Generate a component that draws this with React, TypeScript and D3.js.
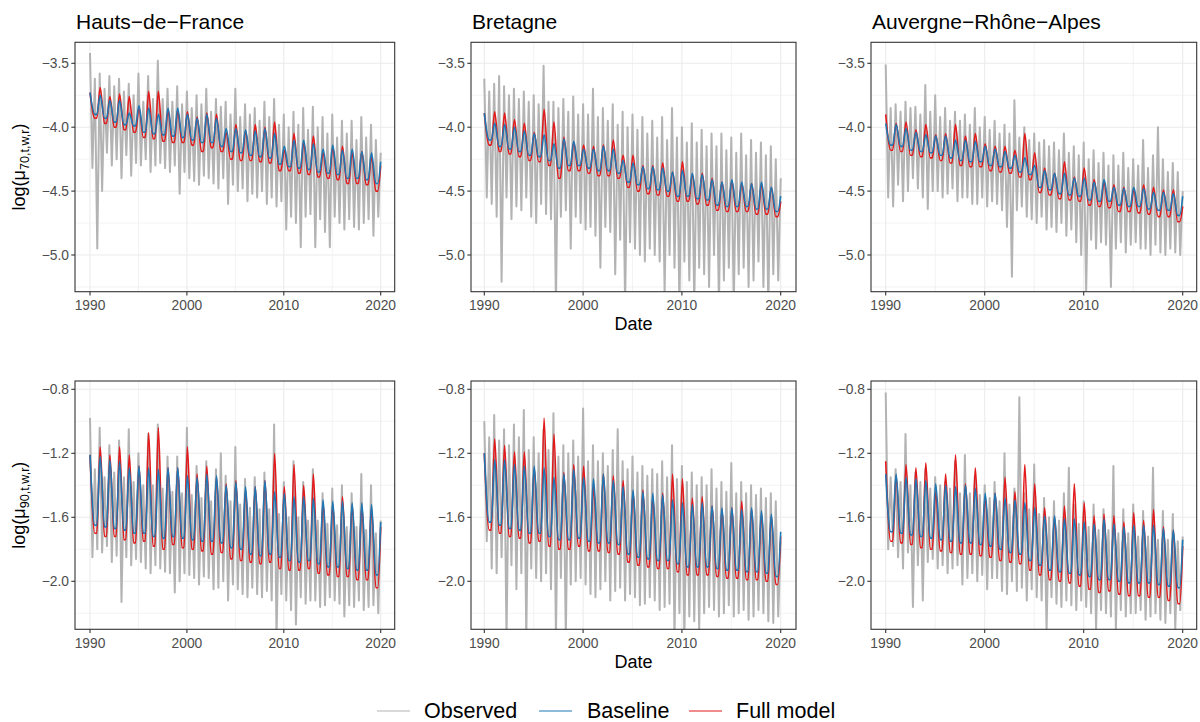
import React from "react";
import * as d3 from "d3";

const FONT = '"Liberation Sans", Arial, Helvetica, sans-serif';

const years = d3.range(1990, 2020);
const regions = ["Hauts\u2212de\u2212France", "Bretagne", "Auvergne\u2212Rh\u00f4ne\u2212Alpes"];
const xTicks = [1990, 2000, 2010, 2020];
const xMinor = [1995, 2005, 2015];
const yTicks70 = [-3.5, -4.0, -4.5, -5.0];
const yMinor70 = [-3.75, -4.25, -4.75, -5.25];
const yTicks90 = [-0.8, -1.2, -1.6, -2.0];
const yMinor90 = [-1.0, -1.4, -1.8, -2.2];
const legendLabels = ["Observed", "Baseline", "Full model"];

// ---------- Age 70 ----------
const hf70BasePeak = [-3.73,-3.75,-3.79,-3.79,-3.89,-3.83,-3.85,-3.90,-3.85,-3.85,-3.90,-3.93,-3.90,-3.93,-4.01,-4.01,-4.02,-4.03,-4.01,-4.05,-4.15,-4.10,-4.10,-4.13,-4.17,-4.14,-4.18,-4.17,-4.19,-4.20,-4.27];
const hf70BaseTrough = [-3.90,-3.93,-3.96,-3.98,-3.99,-4.04,-4.05,-4.06,-4.07,-4.08,-4.10,-4.12,-4.12,-4.15,-4.19,-4.20,-4.22,-4.23,-4.24,-4.29,-4.31,-4.32,-4.33,-4.35,-4.36,-4.37,-4.40,-4.40,-4.41,-4.44];
const hf70FullPeak = [-3.73,-3.69,-3.76,-3.74,-3.76,-3.85,-3.72,-3.72,-3.87,-3.87,-3.88,-3.92,-3.89,-3.90,-4.04,-3.98,-4.03,-3.98,-4.00,-3.96,-4.18,-4.05,-4.12,-4.07,-4.20,-4.16,-4.15,-4.20,-4.19,-4.23,-4.30];
const hf70FullTrough = [-3.93,-3.97,-4.00,-4.02,-4.04,-4.08,-4.09,-4.11,-4.12,-4.12,-4.14,-4.19,-4.16,-4.19,-4.25,-4.26,-4.26,-4.27,-4.28,-4.34,-4.34,-4.36,-4.37,-4.39,-4.40,-4.41,-4.44,-4.44,-4.45,-4.50];
const hf70Obs = [
  -3.42,-4.32,-3.62,-4.95, -3.58,-4.50,-3.70,-4.20, -3.60,-4.30,-3.68,-4.25, -3.62,-4.40,-3.72,-4.22,
  -3.66,-4.38,-3.75,-4.28, -3.58,-4.30,-3.80,-4.25, -3.60,-4.35,-3.78,-4.30, -3.48,-4.28,-3.78,-4.32,
  -3.70,-4.35,-3.80,-4.30, -3.68,-4.52,-3.82,-4.35, -3.72,-4.40,-3.85,-4.42, -3.75,-4.45,-3.82,-4.38,
  -3.70,-4.40,-3.88,-4.44, -3.78,-4.48,-3.84,-4.40, -3.80,-4.60,-3.90,-4.45, -3.70,-4.50,-3.92,-4.48,
  -3.82,-4.58,-3.90,-4.52, -3.85,-4.55,-3.95,-4.50, -3.80,-4.60,-3.92,-4.55, -3.78,-4.62,-3.98,-4.58,
  -3.90,-4.80,-4.00,-4.70, -3.88,-4.75,-3.98,-4.94, -3.85,-4.70,-4.02,-4.68, -3.84,-4.94,-4.00,-4.72,
  -3.92,-4.82,-4.05,-4.94, -3.90,-4.70,-4.08,-4.75, -3.95,-4.80,-4.05,-4.72, -3.95,-4.78,-4.10,-4.80,
  -3.92,-4.75,-4.08,-4.72, -3.98,-4.85,-4.10,-4.70, -4.20];

const br70BasePeak = [-3.89,-3.97,-3.98,-4.00,-4.03,-4.05,-4.06,-4.13,-4.09,-4.11,-4.17,-4.17,-4.15,-4.17,-4.26,-4.28,-4.31,-4.31,-4.32,-4.35,-4.34,-4.36,-4.37,-4.41,-4.43,-4.41,-4.43,-4.44,-4.43,-4.47,-4.54];
const br70BaseTrough = [-4.10,-4.15,-4.17,-4.19,-4.22,-4.23,-4.26,-4.32,-4.30,-4.30,-4.32,-4.34,-4.34,-4.36,-4.43,-4.45,-4.48,-4.49,-4.50,-4.54,-4.54,-4.56,-4.57,-4.61,-4.62,-4.62,-4.62,-4.64,-4.64,-4.66];
const br70FullPeak = [-3.89,-3.88,-3.89,-3.94,-3.97,-4.04,-3.86,-3.96,-4.08,-4.12,-4.14,-4.15,-4.14,-4.10,-4.22,-4.22,-4.30,-4.30,-4.28,-4.35,-4.27,-4.37,-4.36,-4.40,-4.43,-4.42,-4.44,-4.44,-4.45,-4.47,-4.58];
const br70FullTrough = [-4.14,-4.19,-4.21,-4.23,-4.26,-4.27,-4.30,-4.40,-4.34,-4.34,-4.36,-4.38,-4.38,-4.40,-4.47,-4.50,-4.52,-4.53,-4.54,-4.58,-4.58,-4.60,-4.61,-4.65,-4.66,-4.66,-4.66,-4.68,-4.68,-4.70];
const br70Obs = [
  -3.62,-4.55,-3.72,-4.60, -3.66,-4.70,-3.60,-5.21, -3.68,-4.55,-3.75,-4.72, -3.70,-4.62,-3.78,-4.65,
  -3.72,-4.55,-3.80,-4.70, -3.75,-4.75,-3.82,-4.60, -3.52,-4.68,-3.80,-4.72, -3.80,-5.40,-3.85,-4.70,
  -3.78,-4.65,-3.88,-4.95, -3.76,-4.70,-3.90,-4.75, -3.82,-4.80,-3.90,-4.78, -3.70,-4.85,-3.92,-5.10,
  -3.85,-4.78,-3.95,-4.82, -3.82,-5.15,-3.98,-4.88, -3.88,-5.40,-4.00,-4.90, -3.90,-4.95,-4.02,-5.00,
  -3.92,-5.05,-4.05,-4.95, -3.95,-5.00,-4.08,-5.05, -3.92,-5.30,-4.10,-5.00, -3.85,-5.10,-4.08,-5.40,
  -4.00,-5.05,-4.12,-5.20, -3.97,-5.40,-4.12,-5.10, -4.02,-5.15,-4.15,-5.25, -4.05,-5.00,-4.15,-5.40,
  -4.05,-5.20,-4.18,-5.10, -4.08,-5.40,-4.20,-5.15, -4.05,-5.10,-4.22,-5.25, -4.10,-5.20,-4.20,-5.05,
  -4.12,-5.25,-4.22,-5.40, -4.15,-5.15,-4.25,-5.20, -4.40];

const ara70BasePeak = [-3.97,-3.98,-4.01,-4.04,-4.06,-4.07,-4.07,-4.10,-4.10,-4.11,-4.15,-4.17,-4.19,-4.22,-4.24,-4.30,-4.34,-4.36,-4.36,-4.40,-4.40,-4.43,-4.41,-4.47,-4.48,-4.47,-4.48,-4.51,-4.51,-4.52,-4.54];
const ara70BaseTrough = [-4.14,-4.15,-4.18,-4.19,-4.20,-4.22,-4.24,-4.26,-4.27,-4.27,-4.30,-4.31,-4.32,-4.35,-4.37,-4.47,-4.49,-4.52,-4.53,-4.54,-4.57,-4.58,-4.58,-4.61,-4.62,-4.62,-4.64,-4.65,-4.65,-4.69];
const ara70FullPeak = [-3.90,-3.97,-3.96,-4.02,-3.98,-4.06,-4.05,-3.98,-4.07,-4.05,-4.13,-4.15,-4.15,-4.18,-4.05,-4.20,-4.32,-4.36,-4.27,-4.39,-4.32,-4.41,-4.43,-4.45,-4.47,-4.49,-4.45,-4.47,-4.49,-4.49,-4.62];
const ara70FullTrough = [-4.18,-4.19,-4.22,-4.23,-4.24,-4.26,-4.28,-4.30,-4.31,-4.31,-4.34,-4.35,-4.36,-4.39,-4.41,-4.51,-4.53,-4.56,-4.57,-4.58,-4.61,-4.62,-4.63,-4.66,-4.66,-4.67,-4.68,-4.70,-4.70,-4.74];
const ara70Obs = [
  -3.51,-4.55,-3.85,-4.62, -3.82,-4.45,-3.88,-4.58, -3.80,-4.50,-3.85,-4.40, -3.84,-4.48,-3.90,-4.55,
  -3.67,-4.64,-3.88,-4.50, -3.75,-4.50,-3.92,-4.55, -3.85,-4.52,-3.95,-4.48, -3.88,-4.58,-3.95,-4.55,
  -3.90,-4.55,-3.98,-4.60, -3.85,-4.60,-4.00,-4.55, -3.92,-4.62,-4.02,-4.58, -3.95,-4.60,-4.05,-4.65,
  -3.98,-4.78,-4.05,-5.17, -3.79,-4.65,-4.08,-4.62, -4.00,-4.70,-4.10,-4.72, -4.05,-4.75,-4.12,-4.70,
  -4.10,-4.80,-4.15,-4.78, -4.12,-4.82,-4.18,-4.75, -4.05,-4.85,-4.20,-4.80, -4.15,-4.90,-4.22,-5.00,
  -4.12,-5.28,-4.25,-4.88, -4.18,-4.95,-4.28,-4.90, -4.20,-4.92,-4.30,-5.25, -4.22,-4.95,-4.30,-4.90,
  -4.20,-4.98,-4.32,-4.92, -4.25,-4.90,-4.30,-4.95, -4.10,-4.95,-4.32,-5.00, -4.22,-4.92,-4.00,-4.98,
  -4.25,-5.00,-4.35,-4.95, -4.28,-4.98,-4.35,-5.00, -4.50];

// ---------- Age 90 ----------
const hf90BasePeak = [-1.21,-1.22,-1.24,-1.25,-1.29,-1.28,-1.29,-1.30,-1.29,-1.29,-1.34,-1.35,-1.33,-1.34,-1.40,-1.38,-1.41,-1.41,-1.37,-1.44,-1.45,-1.47,-1.47,-1.48,-1.49,-1.50,-1.50,-1.51,-1.51,-1.52,-1.63];
const hf90BaseTrough = [-1.65,-1.66,-1.67,-1.68,-1.70,-1.70,-1.72,-1.73,-1.72,-1.73,-1.74,-1.75,-1.75,-1.76,-1.79,-1.80,-1.83,-1.84,-1.83,-1.85,-1.87,-1.88,-1.87,-1.89,-1.91,-1.91,-1.92,-1.93,-1.93,-1.96];
const hf90FullPeak = [-1.21,-1.16,-1.21,-1.16,-1.21,-1.28,-1.07,-1.04,-1.29,-1.29,-1.16,-1.33,-1.28,-1.35,-1.39,-1.37,-1.43,-1.41,-1.37,-1.20,-1.41,-1.27,-1.40,-1.33,-1.51,-1.52,-1.47,-1.52,-1.53,-1.54,-1.66];
const hf90FullTrough = [-1.70,-1.72,-1.72,-1.74,-1.76,-1.75,-1.78,-1.80,-1.77,-1.79,-1.80,-1.81,-1.83,-1.82,-1.86,-1.87,-1.88,-1.89,-1.88,-1.92,-1.93,-1.93,-1.92,-1.95,-1.96,-1.97,-1.97,-1.99,-1.99,-2.04];
const hf90Obs = [
  -0.98,-1.85,-1.30,-1.80, -1.04,-1.82,-1.35,-1.78, -1.15,-1.88,-1.32,-1.84, -1.12,-2.13,-1.35,-1.85,
  -1.05,-1.90,-1.38,-1.86, -1.20,-1.88,-1.40,-1.92, -1.08,-1.95,-1.40,-1.90, -1.02,-1.92,-1.42,-1.94,
  -1.22,-1.95,-1.44,-2.07, -1.22,-2.00,-1.45,-1.95, -1.04,-1.96,-1.46,-1.98, -1.28,-2.02,-1.48,-1.97,
  -1.25,-1.98,-1.50,-2.05, -1.30,-2.04,-1.20,-2.00, -1.34,-2.12,-1.50,-2.02, -1.16,-2.05,-1.52,-2.08,
  -1.36,-2.10,-1.54,-2.04, -1.35,-2.08,-1.55,-2.10, -1.32,-2.06,-1.55,-2.12, -1.02,-2.35,-1.58,-2.08,
  -1.38,-2.12,-1.60,-2.18, -1.25,-2.27,-1.60,-2.10, -1.38,-2.14,-1.62,-2.12, -1.30,-2.12,-1.62,-2.16,
  -1.45,-2.15,-1.64,-2.10, -1.42,-2.12,-1.65,-2.14, -1.40,-2.22,-1.66,-2.15, -1.45,-2.16,-1.66,-2.12,
  -1.33,-2.18,-1.68,-2.16, -1.40,-2.15,-1.70,-2.20, -1.62];

const br90BasePeak = [-1.20,-1.24,-1.24,-1.27,-1.28,-1.28,-1.29,-1.35,-1.33,-1.30,-1.35,-1.36,-1.33,-1.37,-1.41,-1.43,-1.44,-1.45,-1.46,-1.49,-1.51,-1.52,-1.51,-1.53,-1.54,-1.54,-1.55,-1.54,-1.56,-1.58,-1.69];
const br90BaseTrough = [-1.63,-1.65,-1.67,-1.68,-1.70,-1.70,-1.72,-1.74,-1.74,-1.73,-1.75,-1.76,-1.76,-1.77,-1.83,-1.85,-1.86,-1.87,-1.87,-1.89,-1.91,-1.91,-1.91,-1.92,-1.93,-1.93,-1.94,-1.94,-1.95,-1.97];
const br90FullPeak = [-1.20,-1.11,-1.15,-1.19,-1.19,-1.29,-0.98,-1.08,-1.32,-1.27,-1.28,-1.41,-1.33,-1.34,-1.37,-1.44,-1.43,-1.47,-1.45,-1.33,-1.36,-1.48,-1.47,-1.53,-1.55,-1.54,-1.50,-1.55,-1.58,-1.59,-1.72];
const br90FullTrough = [-1.68,-1.70,-1.72,-1.73,-1.76,-1.75,-1.78,-1.80,-1.80,-1.78,-1.81,-1.81,-1.82,-1.83,-1.88,-1.90,-1.91,-1.92,-1.92,-1.94,-1.96,-1.96,-1.96,-1.97,-1.98,-1.98,-1.99,-1.99,-2.00,-2.02];
const br90Obs = [
  -1.00,-1.75,-1.10,-1.92, -0.96,-1.95,-1.12,-1.85, -1.05,-2.35,-1.15,-1.90, -1.02,-2.05,-1.10,-1.95,
  -0.93,-2.35,-1.18,-1.92, -1.10,-1.98,-1.20,-2.00, -1.05,-1.95,-1.18,-2.05, -0.95,-2.35,-1.22,-1.98,
  -1.15,-2.35,-1.20,-2.02, -1.12,-2.00,-1.22,-1.98, -0.92,-2.02,-1.25,-2.08, -1.15,-2.10,-1.25,-2.05,
  -1.20,-2.00,-1.28,-2.12, -1.18,-2.06,-1.05,-2.04, -1.25,-2.12,-1.30,-2.08, -1.22,-2.10,-1.32,-2.15,
  -1.28,-2.14,-1.34,-2.10, -1.30,-2.12,-1.33,-2.18, -1.25,-2.16,-1.35,-2.14, -1.15,-2.35,-1.36,-2.20,
  -1.28,-2.35,-1.38,-2.22, -1.32,-2.25,-1.40,-2.30, -1.35,-2.20,-1.40,-2.16, -1.30,-2.18,-1.42,-2.22,
  -1.38,-2.20,-1.44,-2.15, -1.26,-2.22,-1.45,-2.20, -1.38,-2.18,-1.45,-2.24, -1.40,-2.22,-1.46,-2.18,
  -1.42,-2.20,-1.48,-2.25, -1.45,-2.26,-1.50,-2.22, -1.75];

const ara90BasePeak = [-1.33,-1.33,-1.35,-1.36,-1.37,-1.39,-1.40,-1.41,-1.40,-1.42,-1.45,-1.45,-1.48,-1.49,-1.51,-1.54,-1.59,-1.59,-1.61,-1.61,-1.63,-1.64,-1.61,-1.64,-1.66,-1.65,-1.65,-1.65,-1.67,-1.68,-1.74];
const ara90BaseTrough = [-1.69,-1.70,-1.71,-1.72,-1.73,-1.74,-1.75,-1.76,-1.76,-1.77,-1.78,-1.80,-1.82,-1.83,-1.87,-1.90,-1.93,-1.94,-1.95,-1.96,-1.97,-1.99,-1.99,-2.00,-2.01,-2.01,-2.01,-2.02,-2.03,-2.04];
const ara90FullPeak = [-1.25,-1.34,-1.27,-1.29,-1.26,-1.44,-1.33,-1.21,-1.39,-1.29,-1.47,-1.45,-1.35,-1.44,-1.27,-1.39,-1.54,-1.60,-1.53,-1.39,-1.51,-1.59,-1.58,-1.59,-1.63,-1.57,-1.62,-1.55,-1.66,-1.68,-1.78];
const ara90FullTrough = [-1.75,-1.76,-1.77,-1.79,-1.80,-1.81,-1.82,-1.83,-1.83,-1.84,-1.85,-1.87,-1.88,-1.89,-1.93,-1.96,-1.99,-2.00,-2.01,-2.03,-2.05,-2.07,-2.06,-2.08,-2.09,-2.09,-2.10,-2.10,-2.12,-2.14];
const ara90Obs = [
  -0.82,-1.80,-1.35,-1.78, -1.30,-1.85,-1.38,-1.92, -1.08,-1.82,-1.40,-2.16, -1.32,-1.90,-1.38,-2.12,
  -1.30,-1.88,-1.42,-1.86, -1.35,-1.92,-1.40,-1.90, -1.38,-1.95,-1.42,-1.92, -1.25,-1.90,-1.45,-2.02,
  -1.21,-1.98,-1.45,-1.95, -1.34,-2.00,-1.46,-1.96, -1.40,-2.05,-1.48,-1.98, -1.38,-1.98,-1.50,-2.06,
  -1.20,-2.08,-1.52,-2.00, -1.42,-2.06,-0.85,-2.04, -1.45,-2.12,-1.55,-2.05, -1.27,-2.10,-1.58,-2.12,
  -1.48,-2.30,-1.60,-2.10, -1.50,-2.14,-1.62,-2.16, -1.45,-2.12,-1.29,-2.15, -1.52,-2.18,-1.64,-2.12,
  -1.50,-2.16,-1.66,-2.20, -1.52,-2.30,-1.68,-2.18, -1.55,-2.20,-1.68,-2.22, -1.28,-2.30,-1.70,-2.18,
  -1.55,-2.22,-1.70,-2.20, -1.52,-2.20,-1.72,-2.18, -1.56,-2.24,-1.72,-2.22, -1.29,-2.20,-1.74,-2.24,
  -1.56,-2.26,-1.74,-2.20, -1.58,-2.30,-1.75,-2.18, -1.72];

// ---------- layout ----------
const W = 1200;
const H = 722;
const cols = [
  { x0: 75, x1: 394.7, p1990: 90, p2020: 380.7 },
  { x0: 471, x1: 796, p1990: 484.3, p2020: 780.7 },
  { x0: 871, x1: 1196.7, p1990: 885.7, p2020: 1182.7 },
];
const rows = [
  { y0: 42.3, y1: 291.7, vA: -3.5, pA: 63.3, vB: -5.0, pB: 255, ticks: yTicks70, minor: yMinor70, sub: "70" },
  { y0: 381, y1: 629.3, vA: -0.8, pA: 389.3, vB: -2.0, pB: 581.3, ticks: yTicks90, minor: yMinor90, sub: "90" },
];

const panels = [
  { row: 0, col: 0, bp: hf70BasePeak, bt: hf70BaseTrough, fp: hf70FullPeak, ft: hf70FullTrough, obs: hf70Obs },
  { row: 0, col: 1, bp: br70BasePeak, bt: br70BaseTrough, fp: br70FullPeak, ft: br70FullTrough, obs: br70Obs },
  { row: 0, col: 2, bp: ara70BasePeak, bt: ara70BaseTrough, fp: ara70FullPeak, ft: ara70FullTrough, obs: ara70Obs },
  { row: 1, col: 0, bp: hf90BasePeak, bt: hf90BaseTrough, fp: hf90FullPeak, ft: hf90FullTrough, obs: hf90Obs },
  { row: 1, col: 1, bp: br90BasePeak, bt: br90BaseTrough, fp: br90FullPeak, ft: br90FullTrough, obs: br90Obs },
  { row: 1, col: 2, bp: ara90BasePeak, bt: ara90BaseTrough, fp: ara90FullPeak, ft: ara90FullTrough, obs: ara90Obs },
];

const COL_OBS = "#B3B3B3";
const COL_BASE = "#1F78B4";
const COL_FULL = "#E31A1C";
const COL_GRID = "#EBEBEB";
const COL_BORDER = "#333333";
const COL_TICKTXT = "#4D4D4D";

// Each year: winter peak, then the summer low (held over its short extent), back up to next peak.
function modelSeries(peaks: number[], troughs: number[]): [number, number][] {
  const pts: [number, number][] = [];
  years.forEach((y, i) => {
    pts.push([i === 0 ? y : y + 0.05, peaks[i]]);
    pts.push([y + 0.5, troughs[i]]);
    pts.push([y + 0.7, troughs[i]]);
  });
  pts.push([2020, peaks[30]]);
  return pts;
}
function obsSeries(obs: number[]): [number, number][] {
  return obs.map((v, i) => [1990 + i * 0.25, v] as [number, number]);
}
const fmt = (v: number) => d3.format(".1f")(v).replace("-", "\u2212");

function Panel({ p, idx }: { p: any; idx: number }) {
  const c = cols[p.col];
  const r = rows[p.row];
  const xs = d3.scaleLinear().domain([1990, 2020]).range([c.p1990, c.p2020]);
  const ys = d3.scaleLinear().domain([r.vA, r.vB]).range([r.pA, r.pB]);
  const lineModel = d3.line<[number, number]>().x((d) => xs(d[0])).y((d) => ys(d[1])).curve(d3.curveMonotoneX);
  const lineObs = d3.line<[number, number]>().x((d) => xs(d[0])).y((d) => ys(d[1]));
  const clipId = `clip${idx}`;
  return (
    <g>
      <defs>
        <clipPath id={clipId}>
          <rect x={c.x0} y={r.y0} width={c.x1 - c.x0} height={r.y1 - r.y0} />
        </clipPath>
      </defs>
      <rect x={c.x0} y={r.y0} width={c.x1 - c.x0} height={r.y1 - r.y0} fill="#fff" />
      {xMinor.map((t) => (
        <line key={"xm" + t} x1={xs(t)} x2={xs(t)} y1={r.y0} y2={r.y1} stroke={COL_GRID} strokeWidth={0.6} />
      ))}
      {r.minor.map((t) => (
        <line key={"ym" + t} x1={c.x0} x2={c.x1} y1={ys(t)} y2={ys(t)} stroke={COL_GRID} strokeWidth={0.6} />
      ))}
      {xTicks.map((t) => (
        <line key={"xg" + t} x1={xs(t)} x2={xs(t)} y1={r.y0} y2={r.y1} stroke={COL_GRID} strokeWidth={1.1} />
      ))}
      {r.ticks.map((t) => (
        <line key={"yg" + t} x1={c.x0} x2={c.x1} y1={ys(t)} y2={ys(t)} stroke={COL_GRID} strokeWidth={1.1} />
      ))}
      <g clipPath={`url(#${clipId})`}>
        <path d={lineObs(obsSeries(p.obs)) || ""} fill="none" stroke={COL_OBS} strokeWidth={2.0} strokeLinejoin="round" />
        <path d={lineModel(modelSeries(p.fp, p.ft)) || ""} fill="none" stroke={COL_FULL} strokeWidth={1.6} strokeLinejoin="round" />
        <path d={lineModel(modelSeries(p.bp, p.bt)) || ""} fill="none" stroke={COL_BASE} strokeWidth={1.6} strokeLinejoin="round" />
      </g>
      <rect x={c.x0} y={r.y0} width={c.x1 - c.x0} height={r.y1 - r.y0} fill="none" stroke={COL_BORDER} strokeWidth={1.1} />
      {xTicks.map((t) => (
        <g key={"xt" + t}>
          <line x1={xs(t)} x2={xs(t)} y1={r.y1} y2={r.y1 + 3.7} stroke={COL_BORDER} strokeWidth={1.1} />
          <text x={xs(t)} y={r.y1 + 18.5} textAnchor="middle" fontSize={13.8} fill={COL_TICKTXT} fontFamily={FONT}>
            {t}
          </text>
        </g>
      ))}
      {r.ticks.map((t) => (
        <g key={"yt" + t}>
          <line x1={c.x0 - 3.7} x2={c.x0} y1={ys(t)} y2={ys(t)} stroke={COL_BORDER} strokeWidth={1.1} />
          <text x={c.x0 - 6} y={ys(t)} dy="0.36em" textAnchor="end" fontSize={13.8} fill={COL_TICKTXT} fontFamily={FONT}>
            {fmt(t)}
          </text>
        </g>
      ))}
      {p.row === 0 && (
        <text x={c.x0 + 1} y={29.3} fontSize={21} fill="#000" fontFamily={FONT}>
          {regions[p.col]}
        </text>
      )}
      {p.col === 1 && (
        <text x={(c.x0 + c.x1) / 2} y={r.y1 + 38.5} textAnchor="middle" fontSize={18} fill="#000" fontFamily={FONT}>
          Date
        </text>
      )}
      {p.col === 0 && (
        <text
          transform={`translate(24.5, ${(r.y0 + r.y1) / 2}) rotate(-90)`}
          textAnchor="middle"
          fontSize={18}
          fill="#000"
          fontFamily={FONT}
        >
          log(μ
          <tspan fontSize={12.6} dy={4}>{r.sub},t,w,r</tspan>
          <tspan fontSize={18} dy={-4}>)</tspan>
        </text>
      )}
    </g>
  );
}

const legendKeys = [
  { color: COL_OBS, kx: 377, tx: 424 },
  { color: COL_BASE, kx: 539, tx: 587 },
  { color: COL_FULL, kx: 689, tx: 736 },
];

export default function App() {
  return (
    <svg
      width={W}
      height={H}
      style={{ position: "absolute", left: 0, top: 0, background: "#fff" }}
      xmlns="http://www.w3.org/2000/svg"
    >
      <rect x={0} y={0} width={W} height={H} fill="#fff" />
      {panels.map((p, i) => (
        <Panel key={i} p={p} idx={i} />
      ))}
      {legendKeys.map((k, i) => (
        <g key={i}>
          <line x1={k.kx} x2={k.kx + 33} y1={711} y2={711} stroke={k.color} strokeWidth={1.2} />
          <text x={k.tx} y={718.2} fontSize={21.5} fill="#000" fontFamily={FONT}>
            {legendLabels[i]}
          </text>
        </g>
      ))}
    </svg>
  );
}
